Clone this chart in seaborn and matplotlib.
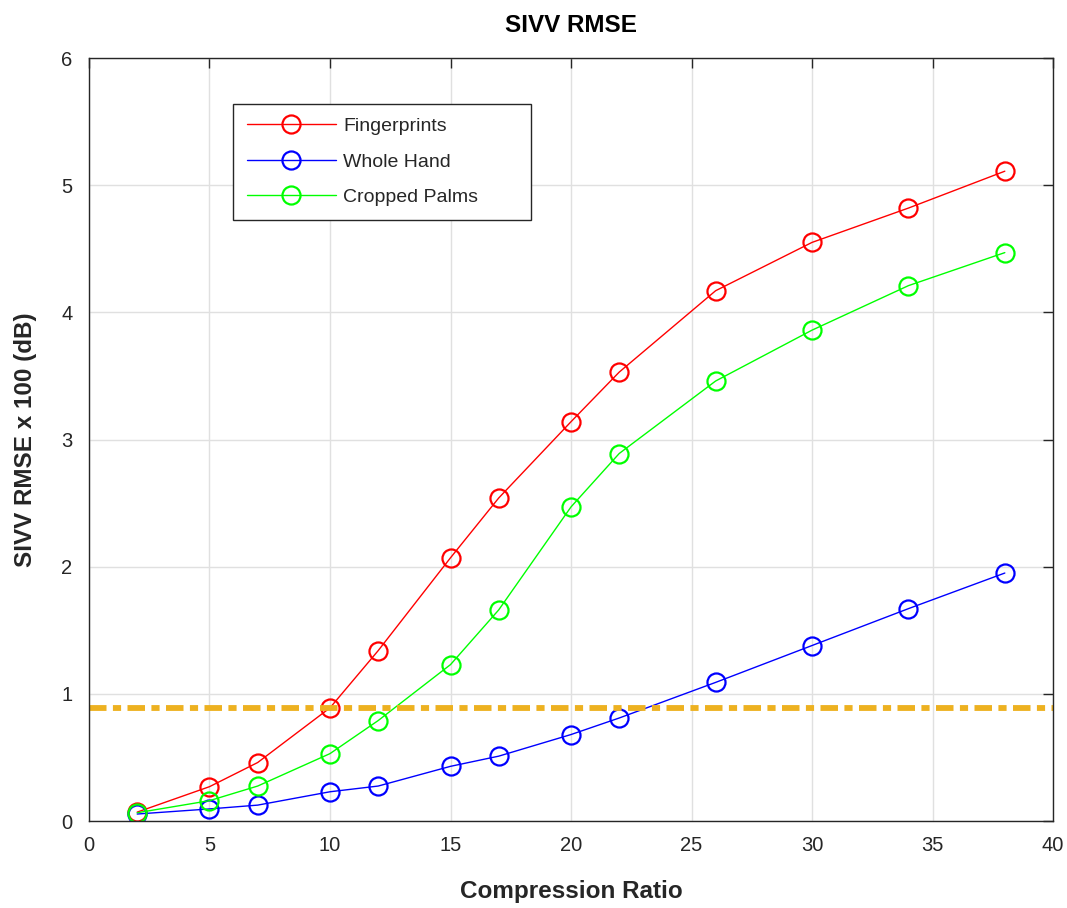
import numpy as np
import pandas as pd
import matplotlib
matplotlib.use("Agg")
import matplotlib.pyplot as plt
import seaborn as sns

# Data
ratios = [2, 5, 7, 10, 12, 15, 17, 20, 22, 26, 30, 34, 38]
fingerprints = [0.07, 0.27, 0.46, 0.89, 1.34, 2.07, 2.54, 3.14, 3.53, 4.17, 4.55, 4.82, 5.11]
whole_hand = [0.055, 0.095, 0.125, 0.23, 0.275, 0.43, 0.51, 0.68, 0.81, 1.09, 1.38, 1.67, 1.95]
cropped_palms = [0.065, 0.16, 0.275, 0.53, 0.79, 1.23, 1.66, 2.47, 2.89, 3.46, 3.86, 4.21, 4.47]
threshold = 0.885

series_names = ['Fingerprints', 'Whole Hand', 'Cropped Palms']
series_colors = ['#FF0000', '#0000FF', '#00FF00']

df = pd.DataFrame({
    'Compression Ratio': ratios * 3,
    'RMSE': fingerprints + whole_hand + cropped_palms,
    'Series': np.repeat(series_names, len(ratios)),
})

sns.set_style('white')
plt.rcParams['font.family'] = ['Liberation Sans', 'DejaVu Sans']

fig = plt.figure(figsize=(10.67, 9.08), dpi=100)
ax = fig.add_axes([0.0834, 0.0958, 0.9035, 0.8403])

# Grid behind everything
ax.set_axisbelow(True)
ax.grid(True, color='#e0e0e0', linewidth=1.0)

for name, col in zip(series_names, series_colors):
    sub = df[df['Series'] == name]
    sns.lineplot(data=sub, x='Compression Ratio', y='RMSE', ax=ax, color=col,
                 label=name, linewidth=1.0, marker='o', markersize=13,
                 markerfacecolor='none', markeredgecolor=col, markeredgewidth=1.6)

# Threshold line
ax.axhline(threshold, color='#EDB120', linewidth=4.2, dashes=(3, 1.1, 1.4, 1.1))

ax.set_xlim(0, 40)
ax.set_ylim(0, 6)
ax.set_xticks(range(0, 41, 5))
ax.set_yticks(range(0, 7))
ax.tick_params(direction='in', length=7, width=1, labelsize=14.5, colors='#262626',
               top=True, right=True)
ax.tick_params(axis='x', pad=11)
ax.tick_params(axis='y', pad=12)
for s in ax.spines.values():
    s.set_color('#262626')
    s.set_linewidth(1.0)

ax.set_xlabel('Compression Ratio', fontsize=17.5, fontweight='bold', labelpad=18, color='#262626')
ax.set_ylabel('SIVV RMSE x 100 (dB)', fontsize=17.5, fontweight='bold', labelpad=17, color='#262626')
ax.set_title('SIVV RMSE', fontsize=17.5, fontweight='bold', pad=19, color='#000000')

leg = ax.legend(loc='upper left', bbox_to_anchor=(0.1494, 0.78, 0.3095, 0.16), mode='expand',
                fontsize=14, frameon=True, fancybox=False, edgecolor='#262626', framealpha=1,
                handlelength=4.6, borderpad=0.7, labelspacing=0.92, handletextpad=0.35,
                borderaxespad=0)
leg.get_frame().set_linewidth(1.0)

plt.savefig('out.png', dpi=100)
